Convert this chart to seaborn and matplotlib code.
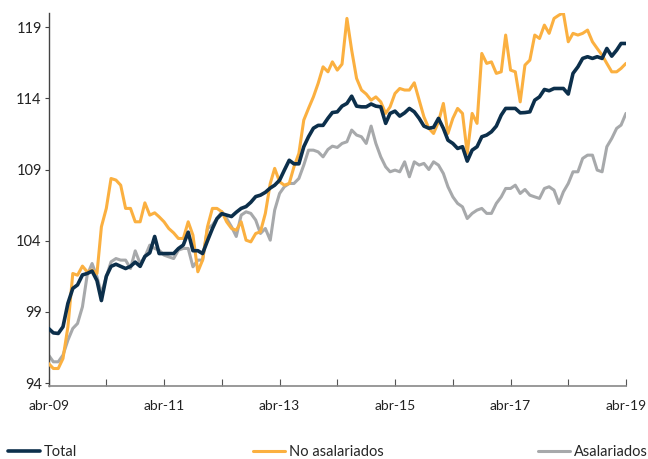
import pandas as pd
import matplotlib
matplotlib.use("Agg")
import matplotlib.pyplot as plt
from matplotlib.lines import Line2D
import seaborn as sns

# monthly index, abr-09 .. abr-19
fechas = pd.date_range("2009-04-01", "2019-04-01", freq="MS")

total = [
    97.84, 97.53, 97.49, 97.96, 99.6, 100.65, 100.9, 101.6, 101.7, 101.87,
    101.2, 99.8, 101.5, 102.2, 102.35, 102.2, 102.05, 102.2, 102.5, 102.2,
    102.9, 103.15, 104.3, 103.1, 103.1, 103.1, 103.1, 103.45, 103.7, 104.6,
    103.3, 103.3, 103.1, 104.0, 104.85, 105.55, 105.9, 105.8, 105.7, 106.0,
    106.27, 106.4, 106.7, 107.1, 107.2, 107.4, 107.7, 107.9, 108.25, 108.95,
    109.65, 109.4, 109.4, 110.6, 111.3, 111.9, 112.1, 112.1, 112.6, 113.0,
    113.05, 113.45, 113.64, 114.15, 113.45, 113.4, 113.4, 113.6, 113.45, 113.4,
    112.24, 112.94, 113.1, 112.75, 112.98, 113.29, 113.05, 112.59, 112.05, 111.9,
    111.96, 112.59, 111.89, 111.06, 110.83, 110.48, 110.6, 109.59, 110.36, 110.6,
    111.3, 111.42, 111.65, 112.05, 112.82, 113.29, 113.29, 113.29, 112.98, 113.0,
    113.05, 113.87, 114.1, 114.62, 114.53, 114.69, 114.69, 114.69, 114.3, 115.75,
    116.21, 116.8, 116.92, 116.8, 116.92, 116.8, 117.5, 116.96, 117.38, 117.85,
    117.85,
]

no_asalariados = [
    95.38, 95.03, 95.03, 95.73, 97.95, 101.7, 101.58, 102.22, 101.82, 101.94,
    101.7, 104.98, 106.27, 108.37, 108.26, 107.9, 106.27, 106.27, 105.33, 105.33,
    106.66, 105.8, 105.96, 105.68, 105.33, 104.86, 104.55, 104.16, 104.16, 105.33,
    104.39, 101.82, 102.64, 104.98, 106.27, 106.27, 106.03, 105.33, 104.86, 104.74,
    105.33, 104.04, 103.92, 104.51, 104.63, 105.92, 108.02, 109.08, 108.14, 107.9,
    108.02, 109.19, 110.13, 112.47, 113.29, 114.1, 115.05, 116.21, 115.86, 116.56,
    115.98, 116.4, 119.61, 117.38, 115.4, 114.58, 114.3, 113.87, 114.1, 113.75,
    112.94, 113.4, 114.34, 114.69, 114.58, 114.58, 115.09, 113.87, 112.7, 111.89,
    111.53, 112.35, 113.64, 111.53, 112.59, 113.29, 112.94, 110.13, 112.94, 112.24,
    117.15, 116.45, 116.56, 115.75, 115.86, 118.44, 115.98, 115.86, 113.75, 116.33,
    116.68, 118.44, 118.2, 119.14, 118.56, 119.61, 119.84, 120.0, 117.97, 118.56,
    118.44, 118.56, 118.79, 117.97, 117.5, 117.03, 116.45, 115.86, 115.86, 116.1,
    116.45,
]

asalariados = [
    95.97, 95.5, 95.5, 95.97, 97.02, 97.84, 98.19, 99.36, 101.58, 102.4,
    101.47, 100.3, 101.47, 102.52, 102.75, 102.64, 102.64, 102.05, 103.29, 102.4,
    102.87, 103.69, 103.46, 103.34, 102.99, 102.87, 102.75, 103.34, 103.46, 103.46,
    102.17, 102.64, 102.64, 104.86, 105.1, 105.56, 106.03, 105.56, 104.98, 104.3,
    105.8, 106.03, 105.92, 105.45, 104.51, 104.86, 104.04, 106.15, 107.32, 107.79,
    108.02, 108.02, 108.37, 109.31, 110.36, 110.36, 110.24, 109.89, 110.41, 110.64,
    110.55, 110.83, 110.95, 111.77, 111.42, 111.3, 110.83, 112.05, 110.83, 109.89,
    109.19, 108.84, 108.96, 108.84, 109.54, 108.49, 109.54, 109.31, 109.43, 109.0,
    109.54, 109.31, 108.72, 107.79, 107.08, 106.62, 106.38, 105.56, 105.92, 106.15,
    106.27, 105.92, 105.92, 106.62, 107.08, 107.67, 107.67, 107.9, 107.32, 107.6,
    107.2, 107.08, 106.97, 107.67, 107.79, 107.55, 106.62, 107.43, 108.02, 108.84,
    108.84, 109.78, 110.01, 110.01, 108.96, 108.84, 110.6, 111.18, 111.89, 112.12,
    112.94,
]

y_ticks = [94, 99, 104, 109, 114, 119]

df = pd.DataFrame({"fecha": fechas, "Total": total,
                   "No asalariados": no_asalariados, "Asalariados": asalariados})

c_total = "#0c2f4b"
c_no = "#fbb040"
c_asal = "#a7a9ab"

sns.set_style("white")
plt.rcParams["font.family"] = ["Lato", "DejaVu Sans"]

fig = plt.figure(figsize=(6.48, 4.59), dpi=100)
ax = fig.add_axes([0.075, 0.159, 0.891, 0.813])

sns.lineplot(data=df, x="fecha", y="Asalariados", color=c_asal, lw=2.2, ax=ax, zorder=2)
sns.lineplot(data=df, x="fecha", y="No asalariados", color=c_no, lw=2.2, ax=ax, zorder=3)
sns.lineplot(data=df, x="fecha", y="Total", color=c_total, lw=2.6, ax=ax, zorder=4)

ax.set_xlim(fechas[0], fechas[-1])
ax.set_ylim(93.8, 120)
ax.set_yticks(y_ticks)
ax.set_yticklabels([str(v) for v in y_ticks])

anios = pd.date_range("2009-04-01", "2019-04-01", freq="12MS")
ax.set_xticks(anios)
ax.set_xticklabels([f"abr-{d.strftime('%y')}" if i % 2 == 0 else "" for i, d in enumerate(anios)])

ax.set_xlabel("")
ax.set_ylabel("")
for s in ["top", "right"]:
    ax.spines[s].set_visible(False)
ax.spines["left"].set_color("#444444")
ax.spines["bottom"].set_color("#888888")
ax.spines["left"].set_linewidth(1.0)
ax.spines["bottom"].set_linewidth(1.2)

ax.tick_params(axis="x", direction="in", length=5, color="#555555", pad=10,
               labelsize=10, labelcolor="#222222")
ax.tick_params(axis="y", direction="out", length=3, color="#444444", pad=2,
               labelsize=10.5, labelcolor="#222222")
ax.tick_params(axis="x", bottom=True)
ax.tick_params(axis="y", left=True)

# legend spread along the bottom
items = [("Total", c_total, 2.6, 0.012), ("No asalariados", c_no, 2.2, 0.39),
         ("Asalariados", c_asal, 2.2, 0.83)]
for lab, col, lw, xpos in items:
    h = Line2D([0], [0], color=col, lw=lw)
    fig.legend(handles=[h], labels=[lab], loc="center left",
               bbox_to_anchor=(xpos, 0.016), frameon=False, fontsize=10.5,
               handlelength=2.2, handletextpad=0.3, borderpad=0, borderaxespad=0)

fig.savefig("out.png", dpi=100, facecolor="white")
